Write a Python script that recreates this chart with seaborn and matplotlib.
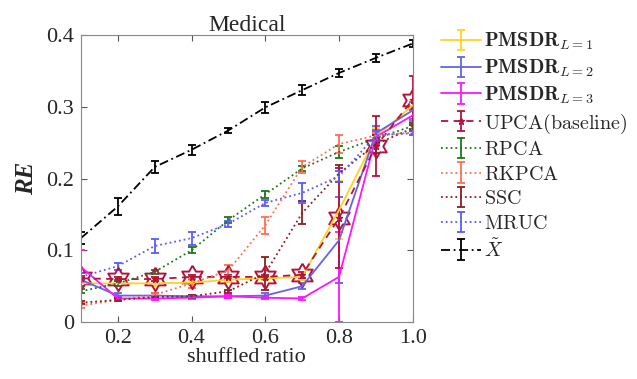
import matplotlib
matplotlib.use("Agg")
import matplotlib.pyplot as plt
import numpy as np
import seaborn as sns

ratio = [0.1, 0.2, 0.3, 0.4, 0.5, 0.6, 0.7, 0.8, 0.9, 1.0]

pmsdr1 = [0.054, 0.054, 0.054, 0.055, 0.059, 0.061, 0.063, 0.156, 0.258, 0.302]
pmsdr1_err = [0.003, 0.003, 0.003, 0.003, 0.003, 0.003, 0.004, 0.040, 0.012, 0.008]
pmsdr2 = [0.059, 0.037, 0.037, 0.036, 0.036, 0.037, 0.050, 0.114, 0.263, 0.295]
pmsdr2_err = [0.009, 0.003, 0.003, 0.002, 0.002, 0.003, 0.004, 0.060, 0.010, 0.012]
pmsdr3 = [0.077, 0.033, 0.033, 0.034, 0.036, 0.034, 0.033, 0.063, 0.258, 0.288]
pmsdr3_err = [0.023, 0.002, 0.002, 0.002, 0.002, 0.002, 0.002, 0.063, 0.010, 0.008]
upca = [0.061, 0.060, 0.060, 0.063, 0.063, 0.063, 0.066, 0.145, 0.245, 0.310]
upca_err = [0.003, 0.003, 0.003, 0.003, 0.003, 0.003, 0.004, 0.070, 0.042, 0.033]
rpca = [0.043, 0.054, 0.070, 0.100, 0.142, 0.178, 0.214, 0.237, 0.256, 0.273]
rpca_err = [0.003, 0.004, 0.003, 0.004, 0.004, 0.005, 0.004, 0.008, 0.005, 0.004]
rkpca = [0.023, 0.031, 0.038, 0.054, 0.072, 0.135, 0.216, 0.248, 0.260, 0.264]
rkpca_err = [0.003, 0.002, 0.003, 0.006, 0.008, 0.012, 0.008, 0.012, 0.004, 0.003]
ssc = [0.027, 0.031, 0.035, 0.036, 0.043, 0.068, 0.152, 0.207, 0.248, 0.270]
ssc_err = [0.002, 0.002, 0.002, 0.002, 0.002, 0.023, 0.016, 0.012, 0.012, 0.004]
mruc = [0.063, 0.078, 0.106, 0.117, 0.137, 0.166, 0.180, 0.203, 0.260, 0.263]
mruc_err = [0.005, 0.005, 0.010, 0.009, 0.004, 0.004, 0.014, 0.008, 0.006, 0.003]
xtilde = [0.117, 0.161, 0.216, 0.240, 0.267, 0.299, 0.323, 0.347, 0.368, 0.388]
xtilde_err = [0.008, 0.012, 0.009, 0.007, 0.003, 0.008, 0.007, 0.006, 0.006, 0.005]

series = [
    (r"$\mathbf{PMSDR}_{L=1}$", pmsdr1, pmsdr1_err, "#FFD21E", "-", None),
    (r"$\mathbf{PMSDR}_{L=2}$", pmsdr2, pmsdr2_err, "#6464E6", "-", None),
    (r"$\mathbf{PMSDR}_{L=3}$", pmsdr3, pmsdr3_err, "#FF14FF", "-", None),
    (r"$\mathrm{UPCA(baseline)}$", upca, upca_err, "#B4143C", (0, (4, 3)), "*"),
    (r"$\mathrm{RPCA}$", rpca, rpca_err, "#1E781E", ":", None),
    (r"$\mathrm{RKPCA}$", rkpca, rkpca_err, "#FF6E50", ":", None),
    (r"$\mathrm{SSC}$", ssc, ssc_err, "#8C1E1E", ":", None),
    (r"$\mathrm{MRUC}$", mruc, mruc_err, "#5A5AFF", ":", None),
    (r"$\tilde{X}$", xtilde, xtilde_err, "black", (0, (5, 2, 1, 2)), None),
]

sns.set_style("ticks")
plt.rcParams["font.family"] = ["Liberation Serif", "DejaVu Serif"]
plt.rcParams["mathtext.fontset"] = "cm"

fig = plt.figure(figsize=(6.37, 3.79), dpi=100)
ax = fig.add_axes([0.127, 0.150, 0.521, 0.758])

# six-pointed star used for the baseline points
ang_out = np.deg2rad(90 + 60 * np.arange(6))
ang_in = np.deg2rad(120 + 60 * np.arange(6))
hexagram = []
for a, b in zip(ang_out, ang_in):
    hexagram.append((np.cos(a), np.sin(a)))
    hexagram.append((np.cos(b) / np.sqrt(3), np.sin(b) / np.sqrt(3)))
hexagram.append(hexagram[0])

for label, vals, err, color, ls, mk in series:
    ax.errorbar(ratio, vals, yerr=err, color=color, linestyle=ls, linewidth=1.3,
                marker=mk if mk else None, markersize=5, capsize=3, elinewidth=1.3,
                capthick=1.3, label=label)

ax.plot(ratio, upca, linestyle="none", marker=hexagram, markersize=17,
        markerfacecolor="none", markeredgecolor="#B4143C", markeredgewidth=1.4)

ax.set_xlim(0.1, 1.0)
ax.set_ylim(0, 0.4)
ax.set_xticks([0.2, 0.4, 0.6, 0.8, 1.0])
ax.set_xticklabels(["0.2", "0.4", "0.6", "0.8", "1.0"])
ax.set_yticks([0, 0.1, 0.2, 0.3, 0.4])
ax.set_yticklabels(["0", "0.1", "0.2", "0.3", "0.4"])
ax.tick_params(direction="in", top=True, right=True, labelsize=16, length=4,
               color="#555555", pad=5)
for s in ax.spines.values():
    s.set_color("#888888")
ax.set_title("Medical", fontsize=17, pad=3)
ax.set_xlabel("shuffled ratio", fontsize=16, labelpad=0)
ax.set_ylabel("RE", fontsize=18, fontstyle="italic", fontweight="bold", labelpad=6)

ax.legend(loc="upper left", bbox_to_anchor=(0.68, 0.94), bbox_transform=fig.transFigure,
          frameon=False, fontsize=14.5, handlelength=2.0, handletextpad=0.1,
          labelspacing=0.27, borderaxespad=0)

fig.savefig("out.png", dpi=100)
